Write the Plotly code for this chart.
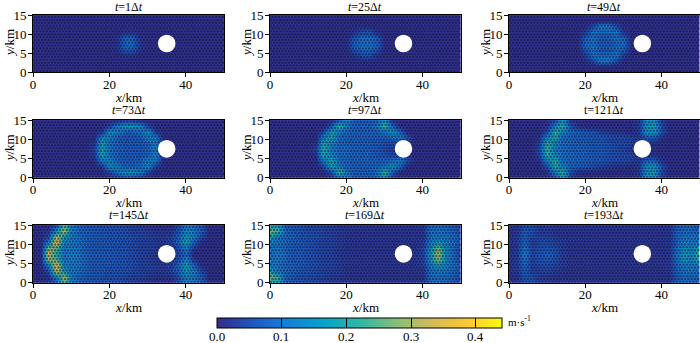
import numpy as np
import plotly.graph_objects as go

X_KM = list(range(0, 51, 2))
Y_KM = [0, 1.5, 3, 4.5, 6, 7.5, 9, 10.5, 12, 13.5, 15]
# speed in 0.01 m/s, rows y = 0, 1.5, 3, 4.5, 6, 7.5 (field is mirrored about y = 7.5)
T1 = [
 [1]*26,
 [1]*26,
 [1]*26,
 [1,1,1,1,1,1,1,1,1,1,1,1,2,2,1,1,1,1,1,1,1,1,1,1,1,1],
 [1,1,1,1,1,1,1,1,1,1,1,2,8,8,2,1,1,1,1,1,1,1,1,1,1,1],
 [1,1,1,1,1,1,1,1,1,1,1,2,9,9,2,1,1,1,1,1,1,1,1,1,1,1],
]
T25 = [
 [1]*26,
 [1]*26,
 [1]*26,
 [1,1,1,1,1,1,1,1,1,1,1,2,6,6,2,1,1,1,1,1,1,1,1,1,1,1],
 [1,1,1,1,1,1,1,1,1,1,1,7,10,10,7,1,1,1,1,1,1,1,1,1,1,1],
 [1,1,1,1,1,1,1,1,1,1,1,8,10,10,8,1,1,1,1,1,1,1,1,1,1,1],
]
T49 = [
 [1]*26,
 [1]*26,
 [1,1,1,1,1,1,1,1,1,1,1,5,12,12,5,1,1,1,1,1,1,1,1,1,1,1],
 [1,1,1,1,1,1,1,1,1,1,3,12,10,10,12,3,1,1,1,1,1,1,1,1,1,1],
 [1,1,1,1,1,1,1,1,1,1,8,11,7,7,10,9,1,1,1,1,1,1,1,1,1,1],
 [1,1,1,1,1,1,1,1,1,1,9,11,7,7,9,10,1,1,1,1,1,1,1,1,1,1],
]
T73 = [
 [1,1,1,1,1,1,1,1,1,1,1,1,3,3,1,1,1,1,1,1,1,1,1,1,1,1],
 [1,1,1,1,1,1,1,1,1,1,4,12,17,17,14,4,1,1,1,1,1,1,1,1,1,1],
 [1,1,1,1,1,1,1,1,1,3,16,13,8,8,10,16,4,1,1,1,1,1,1,1,1,1],
 [1,1,1,1,1,1,1,1,1,14,14,8,7,7,8,13,13,1,1,1,1,1,1,1,1,1],
 [1,1,1,1,1,1,1,1,3,19,11,8,7,7,7,9,14,2,1,1,1,1,1,1,1,1],
 [1,1,1,1,1,1,1,1,4,20,10,8,7,7,7,8,12,1,1,1,1,1,1,1,1,1],
]
T97 = [
 [1,1,1,1,1,1,1,1,1,7,13,7,7,7,8,15,2,1,1,1,1,1,1,1,1,1],
 [1,1,1,1,1,1,1,1,6,24,12,8,8,8,11,24,8,1,1,1,1,1,1,1,1,1],
 [1,1,1,1,1,1,1,5,20,12,9,8,8,8,9,11,17,9,1,1,1,1,1,1,1,1],
 [1,1,1,1,1,1,1,13,21,10,9,8,8,8,8,8,10,13,6,1,1,1,1,1,1,1],
 [1,1,1,1,1,1,2,21,14,9,9,8,8,8,7,6,5,4,1,1,1,1,1,1,1,1],
 [1,1,1,1,1,1,4,22,12,9,9,8,8,8,7,5,3,1,1,1,1,1,1,1,1,1],
]
T121 = [
 [1,1,1,1,1,1,5,16,2,1,1,1,1,1,1,1,1,2,14,15,3,1,1,1,1,1],
 [1,1,1,1,1,2,13,23,6,2,1,1,1,1,1,1,1,3,16,19,5,1,1,1,1,1],
 [1,1,1,1,1,6,23,14,9,8,7,6,4,3,2,2,1,3,16,17,6,1,1,1,1,1],
 [1,1,1,1,2,15,22,10,9,8,8,7,7,6,5,5,4,3,8,8,2,1,1,1,1,1],
 [1,1,1,1,4,22,14,10,9,8,8,7,7,6,5,5,4,2,2,2,1,1,1,1,1,1],
 [1,1,1,1,5,24,12,10,9,8,8,7,7,6,5,4,2,1,1,1,1,1,1,1,1,1],
]
T145 = [
 [1,1,1,5,24,11,8,6,6,5,5,5,4,3,2,2,1,1,1,4,11,10,6,1,1,1],
 [1,1,2,14,32,13,9,8,7,6,6,6,5,4,4,3,2,2,2,6,14,12,8,1,1,1],
 [1,1,5,33,17,12,10,8,7,7,6,6,6,5,4,4,3,3,4,8,18,13,5,1,1,1],
 [1,1,12,37,13,12,11,8,7,7,7,6,6,5,4,4,3,3,4,9,20,9,1,1,1,1],
 [1,1,28,26,11,13,11,8,7,7,7,6,6,5,4,4,3,2,2,6,14,3,1,1,1,1],
 [1,1,34,20,11,13,11,8,7,7,7,6,6,5,4,3,2,2,1,4,9,1,1,1,1,1],
]
T169 = [
 [16,17,7,6,5,4,4,3,3,2,2,2,2,2,2,2,2,2,2,2,2,8,9,8,6,3],
 [28,23,9,7,6,5,5,4,3,3,2,2,2,2,2,2,2,2,2,2,2,10,11,10,8,5],
 [19,11,9,8,6,6,5,4,4,3,2,2,2,2,2,2,2,2,2,2,2,10,12,11,9,6],
 [13,11,9,8,7,6,5,4,4,3,2,2,2,2,2,2,2,2,2,2,3,12,17,13,10,6],
 [11,12,9,7,7,6,5,4,4,3,2,2,2,2,2,2,2,2,2,2,4,15,28,15,9,4],
 [10,12,9,7,7,5,5,4,3,2,2,2,2,2,2,2,2,1,1,2,4,16,31,15,9,3],
]
T193 = [
 [2,2,4,5,3,3,2,2,2,2,2,2,2,2,2,2,2,2,2,2,2,2,7,9,8,6],
 [2,2,7,6,3,3,2,2,2,2,2,2,2,2,2,2,2,2,2,2,2,2,8,10,9,8],
 [2,3,8,4,4,4,3,2,2,2,2,2,2,2,2,2,2,2,2,2,2,2,9,11,11,10],
 [2,3,9,3,5,5,4,3,2,2,2,2,2,2,2,2,2,2,2,2,2,2,9,12,12,11],
 [2,3,11,4,6,7,5,3,2,2,2,2,2,2,2,2,2,2,2,2,2,2,11,16,13,22],
 [2,3,12,4,6,8,6,3,2,2,2,2,2,2,2,2,2,2,2,2,2,2,11,17,14,26],
]
FIELDS = [T1, T25, T49, T73, T97, T121, T145, T169, T193]
TITLES = ["<i>t</i>=1Δ<i>t</i>", "<i>t</i>=25Δ<i>t</i>", "<i>t</i>=49Δ<i>t</i>",
          "<i>t</i>=73Δ<i>t</i>", "<i>t</i>=97Δ<i>t</i>", "t=121Δ<i>t</i>",
          "<i>t</i>=145Δ<i>t</i>", "<i>t</i>=169Δ<i>t</i>", "<i>t</i>=193Δ<i>t</i>"]
CB_TICKS = [0.0, 0.1, 0.2, 0.3, 0.4]

W, H = 700, 343
COLS = [(33, 224), (270, 460.7), (509, 699.5)]
ROWS = [(15, 72), (120, 177.7), (225, 282.7)]
FONT = "Liberation Serif"
PARULA = [[0, "#352a87"], [.14, "#1c5cc4"], [.25, "#1481d6"], [.38, "#06a4ca"],
          [.5, "#2eb7a4"], [.63, "#87bf77"], [.75, "#d1bb59"], [.88, "#fec832"], [1, "#f9fb0e"]]
CB_X0, CB_LEN, CB_MAX = 216.7, 285.0, 0.44

fig = go.Figure()
layout = dict(width=W, height=H, margin=dict(l=0, r=0, t=0, b=0, pad=0, autoexpand=False), autosize=False,
              paper_bgcolor="white", plot_bgcolor="white", showlegend=False,
              font=dict(family=FONT, size=13, color="black"),
              coloraxis=dict(cmin=0, cmax=CB_MAX, colorscale=PARULA,
                  colorbar=dict(orientation="h", lenmode="pixels", len=CB_LEN, thicknessmode="pixels",
                      thickness=10, x=(CB_X0 + CB_LEN / 2) / W, xanchor="center", y=1 - 317.7 / H, yanchor="top",
                      ypad=0, xpad=0, tickvals=CB_TICKS, showticklabels=False, ticks="inside", ticklen=10,
                      tickcolor="black", tickwidth=1, outlinecolor="black", outlinewidth=1)))
shapes, notes = [], []

# triangular-mesh texture of the model grid
gx, gy = np.meshgrid(np.arange(0.2, 50, 0.86), np.arange(0.2, 15, 0.75))
gx = gx + 0.43 * (np.arange(gx.shape[0]) % 2)[:, None]
keep = gx < 50
mx, my = gx[keep], gy[keep]

for i, rows in enumerate(FIELDS):
    r, c = i // 3, i % 3
    n = "" if i == 0 else str(i + 1)
    half = np.array(rows, dtype=float) / 100
    z = np.vstack([half, half[-2::-1]])
    fig.add_trace(go.Heatmap(x=X_KM, y=Y_KM, z=z, coloraxis="coloraxis", zsmooth="best",
                             xaxis=f"x{n}", yaxis=f"y{n}", hoverinfo="skip"))
    fig.add_trace(go.Scatter(x=mx, y=my, mode="markers", xaxis=f"x{n}", yaxis=f"y{n}", hoverinfo="skip",
                             marker=dict(size=2.4, color="#14143c", opacity=0.6, line=dict(width=0))))
    x0, x1 = COLS[c]
    y0, y1 = ROWS[r]
    ax = dict(showgrid=False, zeroline=False, showline=True, linecolor="black", linewidth=1, mirror=True,
              ticks="outside", ticklen=4, tickwidth=1, tickcolor="black", layer="above traces")
    layout[f"xaxis{n}"] = dict(ax, domain=[x0 / W, x1 / W], range=[0, 50], tickvals=[0, 20, 40],
                               anchor=f"y{n}", ticklabelstandoff=-4)
    layout[f"yaxis{n}"] = dict(ax, domain=[1 - y1 / H, 1 - y0 / H], range=[0, 15], tickvals=[0, 5, 10, 15],
                               anchor=f"x{n}", ticklabelstandoff=-1)
    shapes.append(dict(type="circle", xref=f"x{n}", yref=f"y{n}", x0=32.7, x1=37.3, y0=5.2, y1=9.8,
                       fillcolor="white", line=dict(width=0), layer="above"))
    cx = (x0 + x1) / 2
    title_y = y0 - (8 if r == 0 else 10)
    notes.append(dict(text=TITLES[i], x=cx / W, y=1 - title_y / H, xref="paper", yref="paper",
                      showarrow=False, xanchor="center", yanchor="middle", font=dict(size=12)))
    notes.append(dict(text="<i>x</i>/km", x=cx / W, y=1 - (y1 + 25) / H, xref="paper", yref="paper",
                      showarrow=False, xanchor="center", yanchor="middle", font=dict(size=13)))
    notes.append(dict(text="<i>y</i>/km", x=(x0 - 23.5) / W, y=1 - (y0 + y1) / 2 / H, xref="paper", yref="paper",
                      showarrow=False, xanchor="center", yanchor="middle", textangle=-90, font=dict(size=13)))

for v in CB_TICKS:
    px = CB_X0 + CB_LEN * v / CB_MAX
    notes.append(dict(text=f"{v:.1f}", x=px / W, y=1 - 336 / H, xref="paper", yref="paper",
                      showarrow=False, xanchor="center", yanchor="middle", font=dict(size=13)))
notes.append(dict(text="m·s<sup>-1</sup>", x=506 / W, y=1 - 321 / H, xref="paper", yref="paper",
                  showarrow=False, xanchor="left", yanchor="middle", font=dict(size=11)))
layout["shapes"] = shapes
layout["annotations"] = notes
fig.update_layout(**layout)
fig.write_html("out.html", config=dict(displayModeBar=False),
               post_script="document.body.style.margin='0';document.body.style.overflow='hidden';")
